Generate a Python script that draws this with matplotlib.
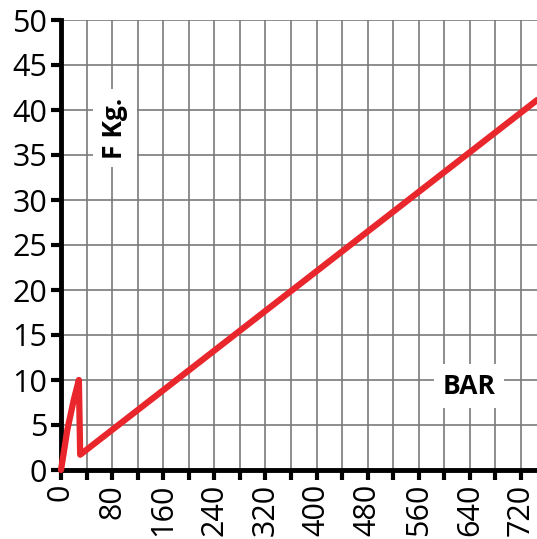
import matplotlib
matplotlib.use("Agg")
import matplotlib.pyplot as plt

# pressure (BAR) vs force (F Kg.)
bar = [0, 10, 20, 28, 30, 745]
force = [0, 4.5, 7.8, 10.0, 1.7, 41.1]

x_ticks = list(range(0, 745, 40))
x_labels = [str(v) if v % 80 == 0 else "" for v in x_ticks]
y_ticks = list(range(0, 55, 5))

plt.rcParams["font.family"] = ["Open Sans", "DejaVu Sans"]

fig = plt.figure(figsize=(5.37, 5.39), dpi=100)
ax = fig.add_axes([61 / 537, 69 / 539, 476 / 537, 450 / 539])

ax.set_xlim(0, 745)
ax.set_ylim(0, 50)
ax.set_xticks(x_ticks)
ax.set_xticklabels(x_labels, rotation=90, fontsize=22)
ax.set_yticks(y_ticks)
ax.set_yticklabels([str(v) for v in y_ticks], fontsize=22)

ax.grid(True, color="#7a7a7a", lw=1.2)
ax.set_axisbelow(True)

for s in ["top", "right"]:
    ax.spines[s].set_visible(False)
for s in ["left", "bottom"]:
    ax.spines[s].set_linewidth(3.5)
    ax.spines[s].set_color("black")
ax.tick_params(width=3, length=7, color="black", pad=3)

ax.plot(bar, force, color="#e8262b", lw=4.5, solid_capstyle="round",
        solid_joinstyle="round", clip_on=False, zorder=3)

ax.text(84, 38, "F Kg.", rotation=90, fontsize=19, fontweight="bold",
        ha="center", va="center",
        bbox=dict(facecolor="white", edgecolor="none", pad=6))
ax.text(638, 9.3, "BAR", fontsize=19, fontweight="bold",
        ha="center", va="center",
        bbox=dict(facecolor="white", edgecolor="none", pad=6))

fig.savefig("out.png", dpi=100)
